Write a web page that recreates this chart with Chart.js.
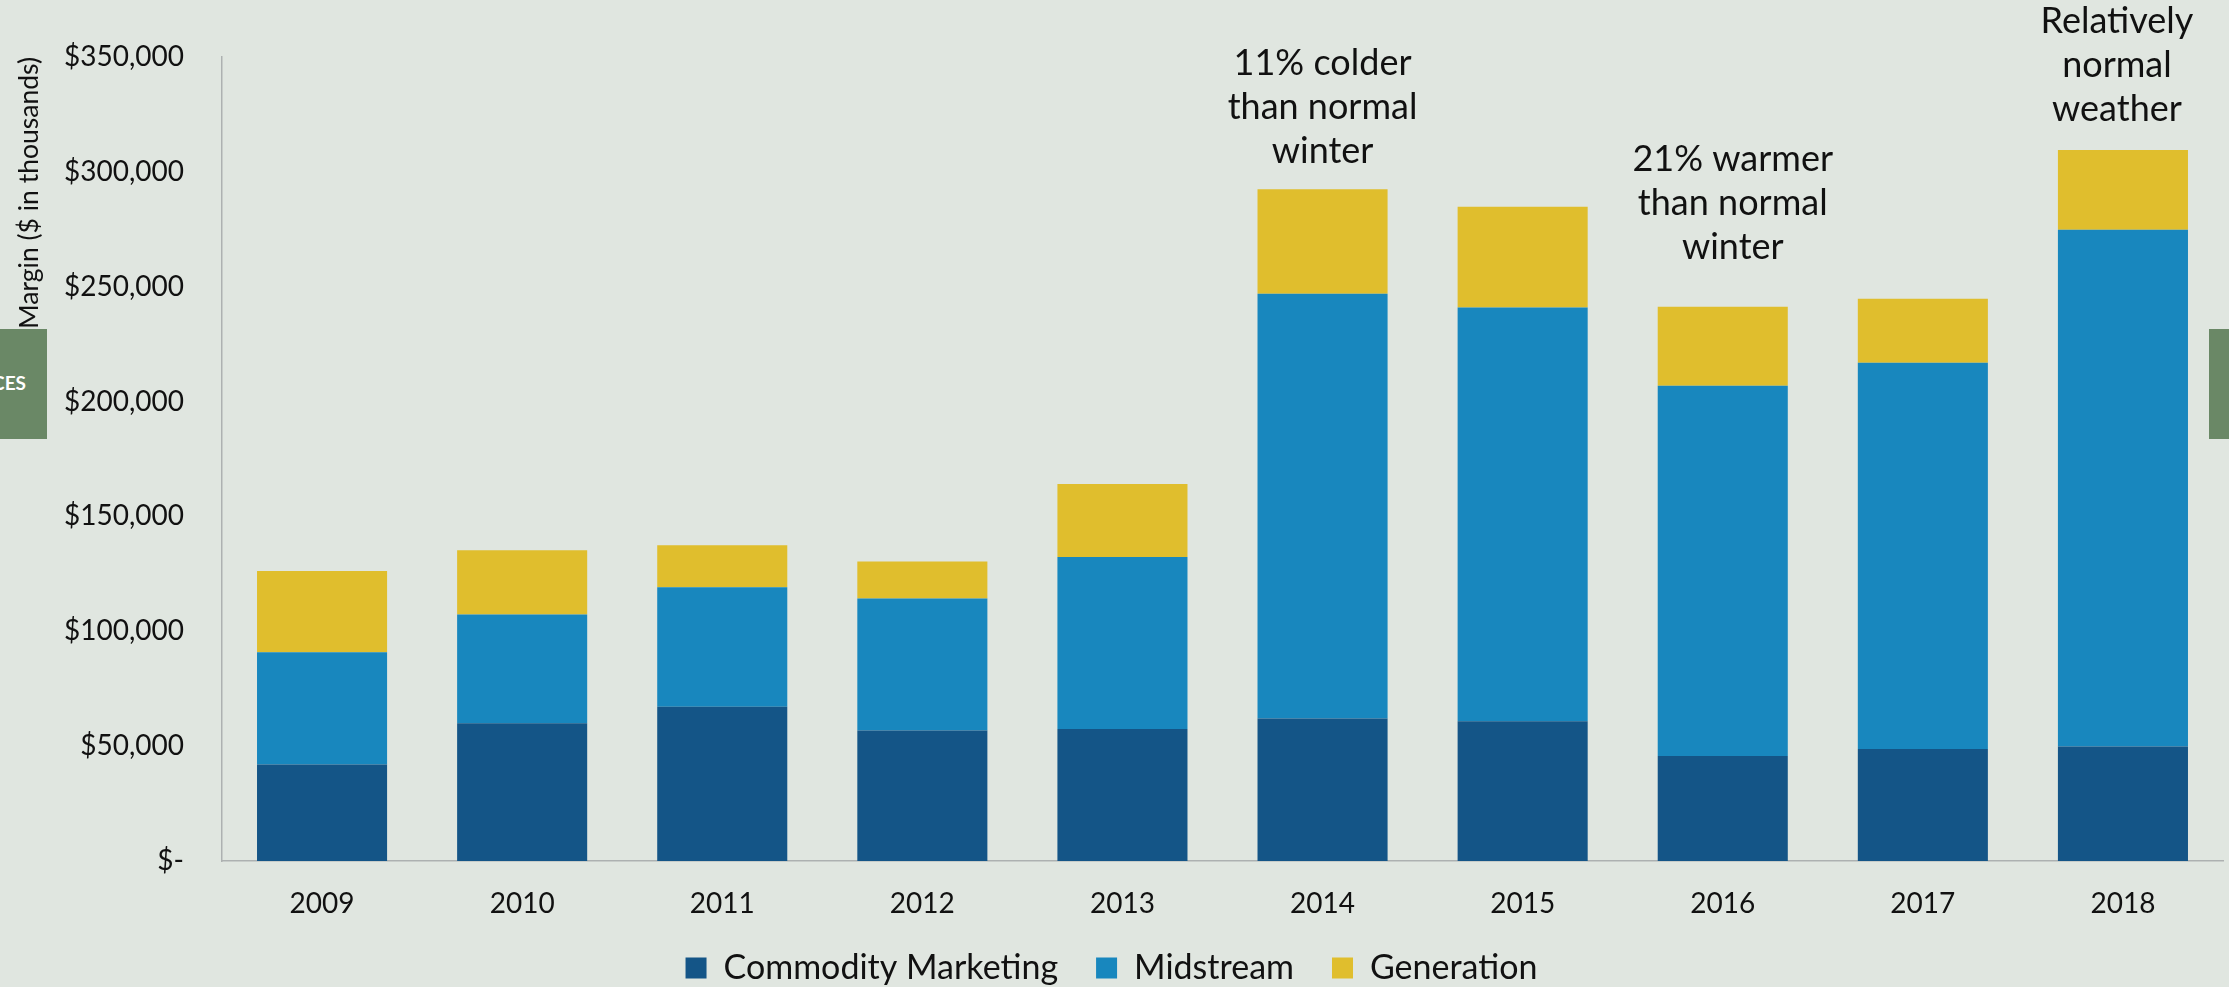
<!DOCTYPE html>
<html>
<head>
<meta charset="utf-8">
<script src="https://cdn.jsdelivr.net/npm/chart.js@4"></script>
<style>
  html, body { margin: 0; padding: 0; background: #E0E6E0; }
  #wrap { position: relative; width: 2229px; height: 987px; overflow: hidden; }
  .tab { position: absolute; background: #6A8866; }
  #tabLeft { left: 0; top: 329px; width: 47px; height: 110px; }
  #tabLeft span { position: absolute; right: 21px; top: 42px; color: #fff; font: bold 19px Lato, sans-serif; }
  #tabRight { left: 2209px; top: 329px; width: 20px; height: 110px; }
</style>
</head>
<body>
<div id="wrap">
  <canvas id="myChart" width="2229" height="987"></canvas>
  <div class="tab" id="tabLeft"><span>CES</span></div>
  <div class="tab" id="tabRight"></div>
</div>
<script>
// values in $ thousands, each segment of the stack
const years = ["2009", "2010", "2011", "2012", "2013", "2014", "2015", "2016", "2017", "2018"];
const commodityMarketing = [42000, 60000, 67200, 56800, 57500, 62000, 60800, 45700, 48800, 49800];
const midstream = [48900, 47300, 52000, 57500, 74800, 184900, 180200, 161200, 168100, 225000];
const generation = [35300, 28000, 18300, 16100, 31800, 45500, 43800, 34400, 27900, 34700];
const yTicks = [0, 50000, 100000, 150000, 200000, 250000, 300000, 350000];

const notes = [
  { year: "2014", lines: ["11% colder", "than normal", "winter"] },
  { year: "2016", lines: ["21% warmer", "than normal", "winter"] },
  { year: "2018", lines: ["Relatively", "normal", "weather"] },
];

const colors = {
  commodity: "#145587",
  midstream: "#1887BE",
  generation: "#E0BE2D",
  axis: "#ADB1B1",
  text: "#111111",
};

// text notes above some bars, anchored on a y value for the last line
const notesPlugin = {
  id: "notes",
  afterDatasetsDraw(chart, args, opts) {
    const ctx = chart.ctx;
    const x = chart.scales.x;
    const y = chart.scales.y;
    ctx.save();
    ctx.font = "36px Lato";
    ctx.fillStyle = colors.text;
    ctx.textAlign = "center";
    ctx.textBaseline = "middle";
    notes.forEach((n, i) => {
      const px = x.getPixelForValue(years.indexOf(n.year)) + opts.shift[i];
      const py = y.getPixelForValue(opts.anchors[i]);
      n.lines.forEach((t, j) => {
        ctx.fillText(t, px, py - (n.lines.length - 1 - j) * 44);
      });
    });
    ctx.restore();
  },
};

const ctx = document.getElementById("myChart").getContext("2d");
const myChart = new Chart(ctx, {
  type: "bar",
  data: {
    labels: years,
    datasets: [
      { label: "Commodity Marketing", data: commodityMarketing, backgroundColor: colors.commodity },
      { label: "Midstream", data: midstream, backgroundColor: colors.midstream },
      { label: "Generation", data: generation, backgroundColor: colors.generation },
    ],
  },
  plugins: [notesPlugin],
  options: {
    responsive: false,
    animation: false,
    layout: { padding: { top: 57, right: 6, left: 0, bottom: -8 } },
    datasets: { bar: { categoryPercentage: 1, barPercentage: 0.65 } },
    scales: {
      x: {
        stacked: true,
        grid: { display: false },
        border: { display: true, color: colors.axis, width: 1.5 },
        ticks: { color: colors.text, font: { family: "Lato", size: 28 }, padding: 18 },
        afterFit: (s) => { s.height = 52; },
      },
      y: {
        stacked: true,
        min: 0,
        max: 350000,
        grid: { display: false, drawTicks: false },
        border: { display: true, color: colors.axis, width: 1.5 },
        afterBuildTicks: (s) => { s.ticks = yTicks.map((v) => ({ value: v })); },
        afterFit: (s) => { s.width = 222; },
        ticks: {
          color: colors.text,
          padding: 38,
          font: { family: "Lato", size: 28 },
          callback: (v) => (v === 0 ? "$-" : "$" + v.toLocaleString("en-US")),
        },
        title: {
          display: true,
          text: "Margin ($ in thousands)",
          align: "end",
          color: colors.text,
          font: { family: "Lato", size: 26.5 },
          padding: { top: 14, bottom: 0 },
        },
      },
    },
    plugins: {
      legend: {
        position: "bottom",
        labels: {
          color: colors.text,
          font: { family: "Lato", size: 34 },
          boxWidth: 21,
          boxHeight: 21,
          padding: 38,
        },
      },
      tooltip: { enabled: false },
      notes: { anchors: [309000, 267000, 327400], shift: [0, 10, -6] },
    },
  },
});
</script>
</body>
</html>
